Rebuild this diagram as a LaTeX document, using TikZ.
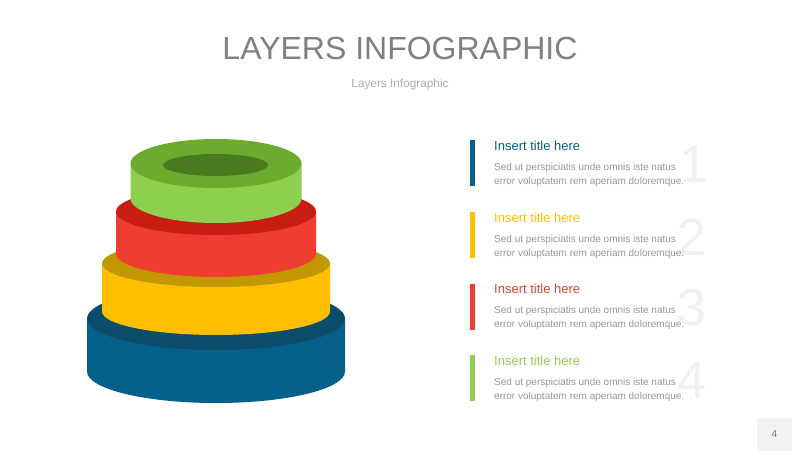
\documentclass[tikz,border=0pt]{standalone}
\usepackage{fontspec}
\setmainfont{Liberation Sans}
\begin{document}
\begin{tikzpicture}[x=1pt,y=-1pt,
  ttl/.style={anchor=west,font=\fontsize{13}{15}\selectfont,inner sep=0pt},
  body/.style={anchor=north west,align=left,font=\fontsize{10}{14}\selectfont,text=bodygray,inner sep=0pt},
  bignum/.style={font=\fontsize{52}{52}\selectfont,text=numgray,inner sep=0pt},
  bar/.style={inner sep=0pt,minimum width=4.5pt,minimum height=46pt}
]
\definecolor{bodygray}{HTML}{979797}
\definecolor{numgray}{HTML}{F1F1F1}
\definecolor{titlegray}{HTML}{808080}
\definecolor{subgray}{HTML}{ABABAB}
\definecolor{pggray}{HTML}{7A7A7A}
\definecolor{bluS}{HTML}{05618A}
\definecolor{bluT}{HTML}{0A4C6A}
\definecolor{yelS}{HTML}{FDBF00}
\definecolor{yelT}{HTML}{C29700}
\definecolor{redS}{HTML}{EF3D32}
\definecolor{redTxt}{HTML}{DE4236}
\definecolor{redT}{HTML}{C81D14}
\definecolor{grnS}{HTML}{8DCF4E}
\definecolor{grnT}{HTML}{6CAB2E}
\definecolor{grnH}{HTML}{4A7A20}
\definecolor{pgbox}{HTML}{F2F2F2}
\useasboundingbox (0,0) rectangle (800,450);
\fill[white] (0,0) rectangle (800,450);
% title
\node[font=\fontsize{32}{34}\selectfont,text=titlegray] (title) at (400,48) {LAYERS INFOGRAPHIC};
\node[font=\fontsize{11.8}{13}\selectfont,text=subgray] (sub) at (400,84) {Layers Infographic};
% cylinders
% blue
\fill[bluS] (87,318.5) -- (87,371.5) arc[start angle=180,end angle=0,x radius=129,y radius=31.5] -- (345,318.5) -- cycle;
\fill[bluT] (216,318.5) ellipse[x radius=129,y radius=31.5];
% yellow
\fill[yelS] (102,263.5) -- (102,311.5) arc[start angle=180,end angle=0,x radius=114,y radius=23.5] -- (330,263.5) -- cycle;
\fill[yelT] (216,263.5) ellipse[x radius=114,y radius=23.5];
% red
\fill[redS] (116,211.5) -- (116,253.5) arc[start angle=180,end angle=0,x radius=100,y radius=23.5] -- (316,211.5) -- cycle;
\fill[redT] (216,211.5) ellipse[x radius=100,y radius=23.5];
% green
\fill[grnS] (130.5,163.5) -- (130.5,198.5) arc[start angle=180,end angle=0,x radius=85.5,y radius=24.5] -- (301.5,163.5) -- cycle;
\fill[grnT] (216,163.5) ellipse[x radius=85.5,y radius=24.5];
\fill[grnH] (215.5,165) ellipse[x radius=52.5,y radius=11];
% items
\node[bignum] (n1) at (694,165) {1};
\node[bignum] (n2) at (692,237) {2};
\node[bignum] (n3) at (692,308) {3};
\node[bignum] (n4) at (692,380) {4};
\node[bar,fill=bluS] (b1) at (472.5,163) {};
\node[bar,fill=yelS] (b2) at (472.5,235) {};
\node[bar,fill=redS] (b3) at (472.5,306.5) {};
\node[bar,fill=grnS] (b4) at (472.5,378) {};
\node[ttl,text=bluS] (t1) at (494,146) {Insert title here};
\node[ttl,text=yelS] (t2) at (494,218) {Insert title here};
\node[ttl,text=redTxt] (t3) at (494,289) {Insert title here};
\node[ttl,text=grnS] (t4) at (494,361) {Insert title here};
\node[body] (d1) at (494,163.5) {Sed ut perspiciatis unde omnis iste natus\\error voluptatem rem aperiam doloremque.};
\node[body] (d2) at (494,235.5) {Sed ut perspiciatis unde omnis iste natus\\error voluptatem rem aperiam doloremque.};
\node[body] (d3) at (494,306.5) {Sed ut perspiciatis unde omnis iste natus\\error voluptatem rem aperiam doloremque.};
\node[body] (d4) at (494,378.5) {Sed ut perspiciatis unde omnis iste natus\\error voluptatem rem aperiam doloremque.};
% page number
\node[fill=pgbox,minimum width=35pt,minimum height=33pt,inner sep=0pt,font=\fontsize{10}{11}\selectfont,text=pggray] (pg) at (774.5,434.5) {4};
\end{tikzpicture}
\end{document}
